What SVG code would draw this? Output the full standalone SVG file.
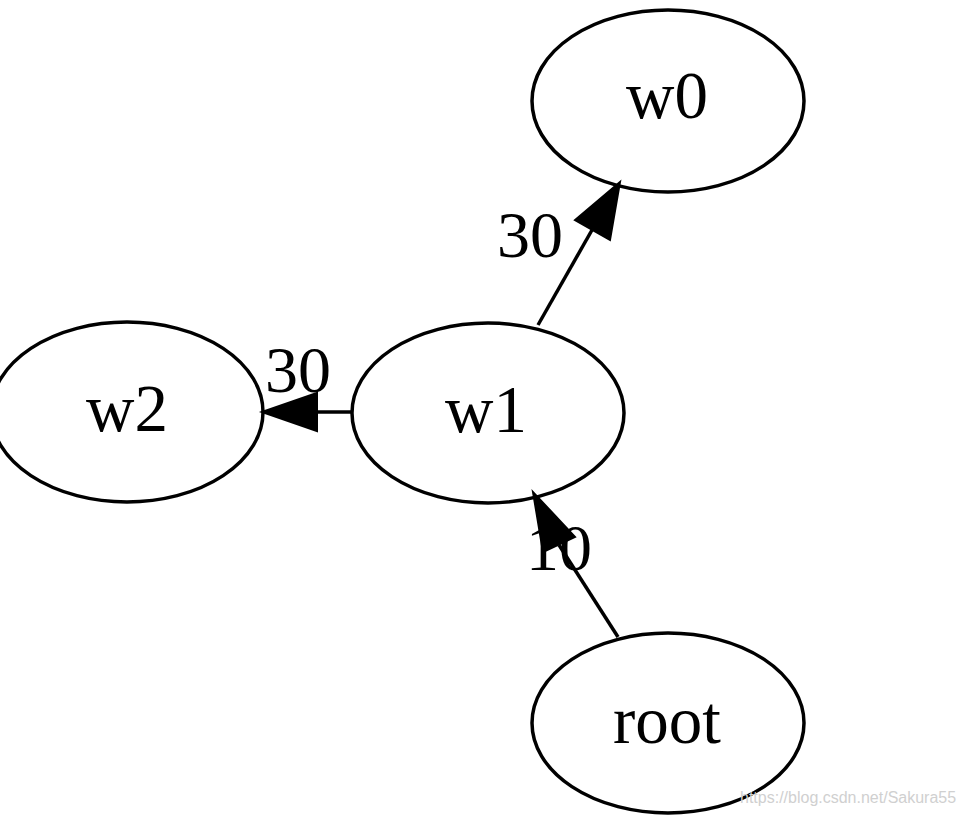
<svg xmlns="http://www.w3.org/2000/svg" width="962" height="817" viewBox="0 0 962 817">
<defs>
<style>
.node ellipse{fill:none;stroke:#000;stroke-width:3.5}
.lbl{font-family:"Liberation Serif","Times New Roman",serif;font-size:67px;fill:#000;text-anchor:middle}
.el{font-family:"Liberation Serif","Times New Roman",serif;font-size:66px;fill:#000;text-anchor:middle}
.edge line{stroke:#000;stroke-width:3.5}
.edge polygon{fill:#000;stroke:#000;stroke-width:2}
</style>
</defs>
<rect width="962" height="817" fill="#fff"/>
<g id="node-w0" class="node"><ellipse cx="668" cy="101" rx="136" ry="91"/><text class="lbl" x="667" y="118">w0</text></g>
<g id="node-w1" class="node"><ellipse cx="488" cy="413" rx="136" ry="90"/><text class="lbl" x="486" y="432">w1</text></g>
<g id="node-w2" class="node"><ellipse cx="127" cy="412" rx="136" ry="90"/><text class="lbl" x="127" y="431">w2</text></g>
<g id="node-root" class="node"><ellipse cx="668" cy="723" rx="136" ry="90"/><text class="lbl" x="667" y="743">root</text></g>
<g id="connectors">
<g class="edge" id="e-w1-w0"><line x1="538" y1="325" x2="592" y2="230"/><polygon points="620,182 575,220 610,240"/><text class="el" x="530" y="257">30</text></g>
<g class="edge" id="e-w1-w2"><line x1="353" y1="412" x2="317" y2="412"/><polygon points="262,412 317,393 317,431"/><text class="el" x="298" y="392">30</text></g>
<g class="edge" id="e-root-w1"><line x1="618" y1="637" x2="559" y2="545"/><polygon points="533,492 543,552 575,537"/><text class="el" x="559" y="570">10</text></g>
</g>
<text x="740" y="803" font-family="Liberation Sans,Arial,sans-serif" font-size="16" fill="#d0d0d0">https://blog.csdn.net/Sakura55</text>
</svg>
